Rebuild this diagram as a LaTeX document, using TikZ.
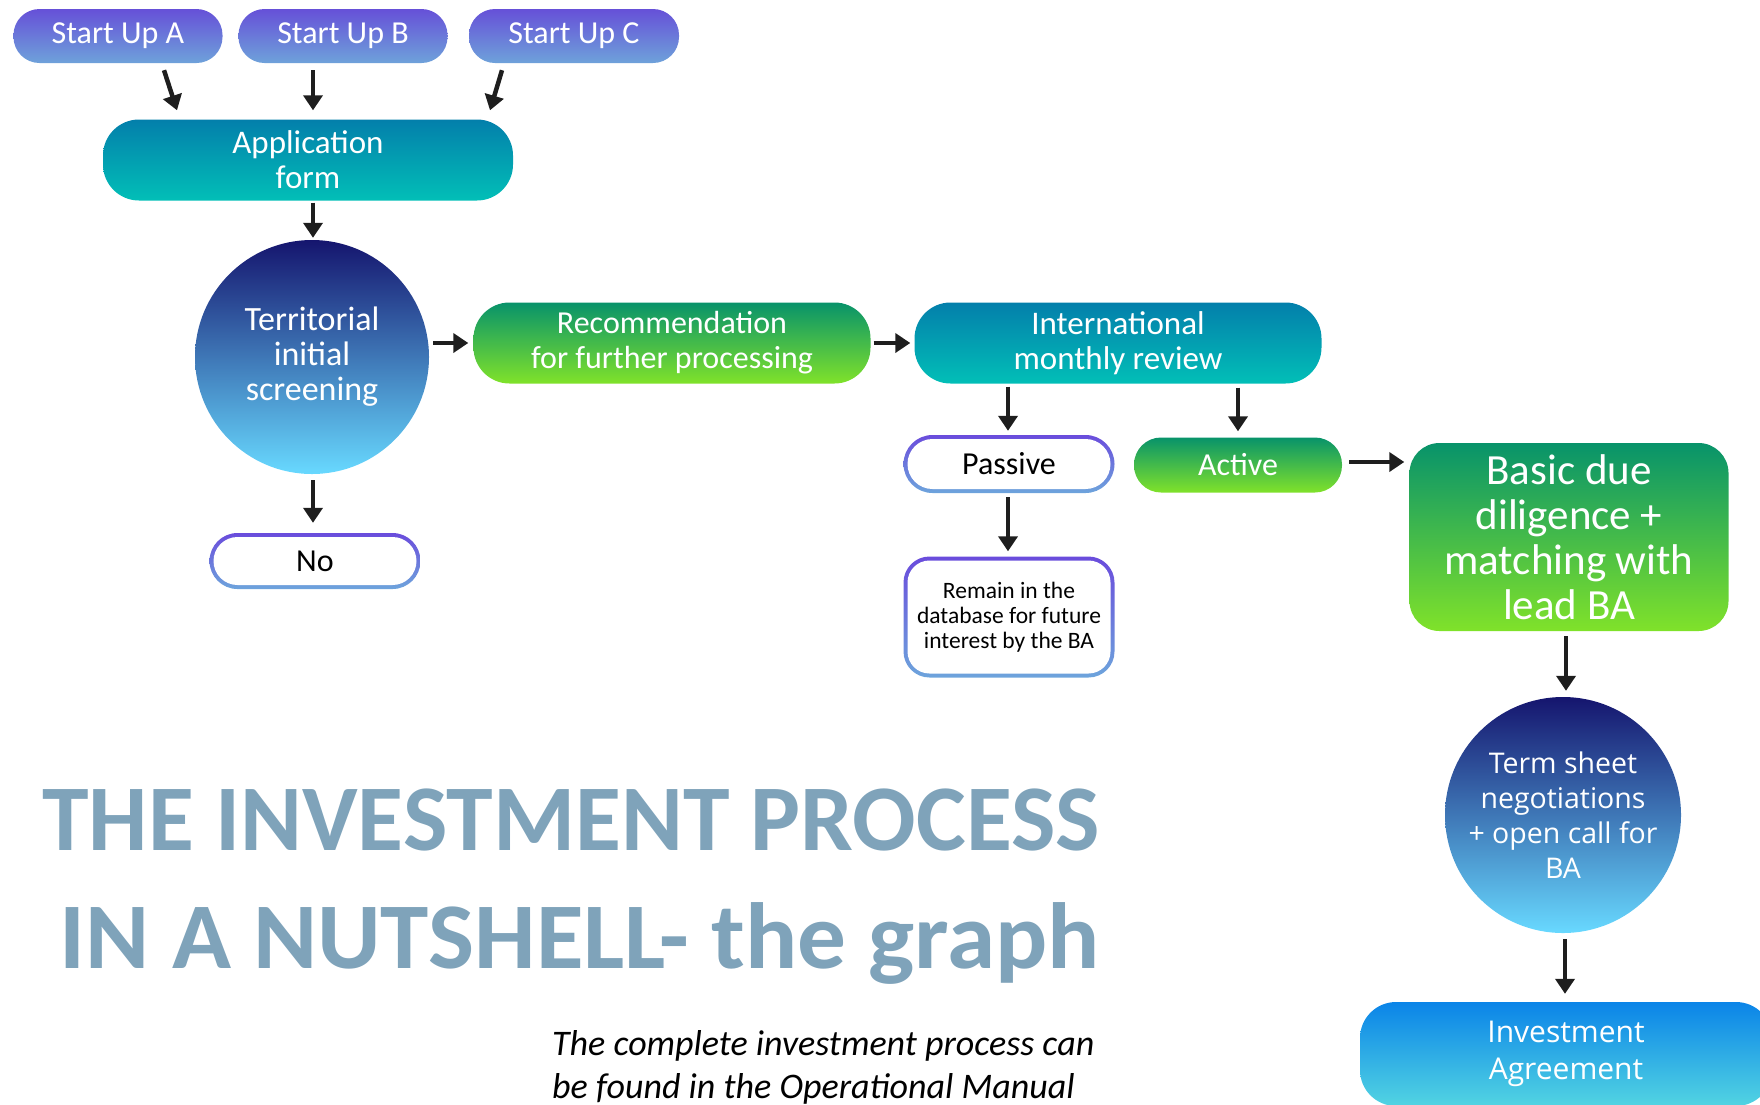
\documentclass[tikz,border=0pt]{standalone}
\usepackage{fontspec}
\setmainfont{Carlito}
\newfontfamily\osans{Open Sans}
\usetikzlibrary{arrows.meta,calc}
\definecolor{supTop}{HTML}{6650D8}
\definecolor{supBot}{HTML}{6EA2DA}
\definecolor{tealTop}{HTML}{037FAB}
\definecolor{tealBot}{HTML}{02BFB7}
\definecolor{grnTop}{HTML}{08936A}
\definecolor{grnBot}{HTML}{80E22A}
\definecolor{navyTop}{HTML}{15156E}
\definecolor{navyBot}{HTML}{68D9FF}
\definecolor{invTop}{HTML}{0A84E8}
\definecolor{invBot}{HTML}{52D4E2}
\definecolor{ringTop}{HTML}{6A4CDC}
\definecolor{ringBot}{HTML}{6DA4DC}
\definecolor{arrowc}{HTML}{1E1E1E}
\definecolor{titlec}{HTML}{7FA3BA}
\begin{document}
\begin{tikzpicture}[x=1pt,y=-1pt,
  base/.style={inner sep=0pt, align=center, text=white},
  startbox/.style={base, shade, top color=supTop, bottom color=supBot, rounded corners=26pt,
     minimum width=209pt, minimum height=54pt, font=\fontsize{32}{34}\selectfont},
  tealbox/.style={base, shade, top color=tealTop, bottom color=tealBot, rounded corners=36pt,
     minimum height=81pt, font=\fontsize{33}{35}\selectfont},
  grnbox/.style={base, shade, top color=grnTop, bottom color=grnBot, rounded corners=36pt,
     font=\fontsize{32}{35}\selectfont},
  navycirc/.style={base, circle, shade, top color=navyTop, bottom color=navyBot},
  ringout/.style={inner sep=0pt, shade, top color=ringTop, bottom color=ringBot},
  ringin/.style={inner sep=0pt, fill=white, align=center, text=black},
  arr/.style={draw=arrowc, line width=4.5pt, -{Triangle[width=19pt,length=15pt]}},
  titletxt/.style={inner sep=0pt, text=titlec, font=\bfseries\fontsize{94}{100}\selectfont},
  subtxt/.style={inner sep=0pt, text=black, font=\itshape\fontsize{36}{40}\selectfont}
]
\useasboundingbox (0,0) rectangle (1760,1104);
\clip (0,0) rectangle (1760,1104);

% start ups
\node[startbox] (sa) at (118,36) {Start Up A};
\node[startbox] (sb) at (343,36) {Start Up B};
\node[startbox, minimum width=210pt] (sc) at (574,36) {Start Up C};

% application form
\node[tealbox, minimum width=410pt] (app) at (308,160) {Application\\form};

% territorial screening
\node[navycirc, minimum size=234pt, font=\fontsize{34}{35}\selectfont] (terr) at (312,357) {Territorial\\initial\\screening};

% No
\node[ringout, rounded corners=28pt, minimum width=211pt, minimum height=56pt] (no) at (315,561) {};
\node[ringin, rounded corners=24pt, minimum width=203pt, minimum height=48pt, font=\fontsize{32}{35}\selectfont] (noT) at (no.center) {No};

% recommendation
\node[grnbox, minimum width=397pt, minimum height=81pt] (rec) at (672,343) {Recommendation\\for further processing};

% international
\node[tealbox, minimum width=407pt] (intl) at (1118,343) {International\\monthly review};

% passive
\node[ringout, rounded corners=29pt, minimum width=211pt, minimum height=58pt] (pas) at (1009,464) {};
\node[ringin, rounded corners=25pt, minimum width=203pt, minimum height=50pt, font=\fontsize{32}{35}\selectfont] (pasT) at (pas.center) {Passive};

% active
\node[grnbox, rounded corners=27pt, minimum width=208pt, minimum height=55pt] (act) at (1238,465) {Active};

% remain
\node[ringout, rounded corners=26pt, minimum width=211pt, minimum height=121pt] (rem) at (1009,617) {};
\node[ringin, rounded corners=22pt, minimum width=203pt, minimum height=113pt, font=\fontsize{23.5}{25}\selectfont] (remT) at (rem.center) {Remain in the\\database for future\\interest by the BA};

% basic due diligence
\node[grnbox, rounded corners=30pt, minimum width=319pt, minimum height=188pt, font=\fontsize{43}{45}\selectfont] (bdd) at (1569,537) {Basic due\\diligence +\\matching with\\lead BA};

% term sheet
\node[navycirc, minimum size=236pt, font=\osans\fontsize{28.5}{35}\selectfont] (term) at (1563,815) {Term sheet\\negotiations\\+ open call for\\BA};

% investment agreement
\node[base, shade, top color=invTop, bottom color=invBot, rounded corners=36pt,
      minimum width=412pt, minimum height=104pt, font=\osans\fontsize{30}{37}\selectfont] (inv) at (1566,1054) {Investment\\Agreement};

% title
\node[titletxt, anchor=base east] (t1) at (1100,850) {THE INVESTMENT PROCESS};
\node[titletxt, anchor=base east, xscale=1.036] (t2) at (1100,968) {IN A NUTSHELL- the graph};
\node[subtxt, anchor=base west] (s1) at (552,1055) {The complete investment process can};
\node[subtxt, anchor=base west] (s2) at (552,1098) {be found in the Operational Manual};

% connectors
\draw[arr] ([xshift=46pt,yshift=-7pt]sa.south) -- ([xshift=-131pt,yshift=9pt]app.north);
\draw[arr] ([xshift=-30pt,yshift=-7pt]sb.south) -- ([xshift=5pt,yshift=9pt]app.north);
\draw[arr] ([xshift=-72pt,yshift=-7pt]sc.south) -- ([xshift=182pt,yshift=9pt]app.north);
\draw[arr] ([xshift=5pt,yshift=-2pt]app.south) -- ([xshift=1pt,yshift=2pt]terr.north);
\draw[arr] ([xshift=1pt,yshift=-6pt]terr.south) -- ([xshift=-2pt,yshift=10pt]no.north);
\draw[arr] ($(terr.east |- rec.west)+(4,0)$) -- ([xshift=-5pt]rec.west);
\draw[arr] ([xshift=3pt]rec.east) -- ([xshift=-4pt]intl.west);
\draw[arr] ([xshift=-110pt,yshift=-3pt]intl.south) -- ([xshift=-1pt,yshift=4pt]pas.north);
\draw[arr] ([xshift=120pt,yshift=-4pt]intl.south) -- ([yshift=6pt]act.north);
\draw[arr] ([xshift=7pt,yshift=3pt]act.east) -- ([xshift=-5pt,yshift=3pt]act.east -| bdd.west);
\draw[arr] ([xshift=-1pt,yshift=-4pt]pas.south) -- ([xshift=-1pt,yshift=5pt]rem.north);
\draw[arr] ([xshift=-3pt,yshift=-5pt]bdd.south) -- ([xshift=3pt,yshift=6pt]term.north);
\draw[arr] ([xshift=2pt,yshift=-6pt]term.south) -- ([xshift=-1pt,yshift=8pt]inv.north);
\end{tikzpicture}
\end{document}
